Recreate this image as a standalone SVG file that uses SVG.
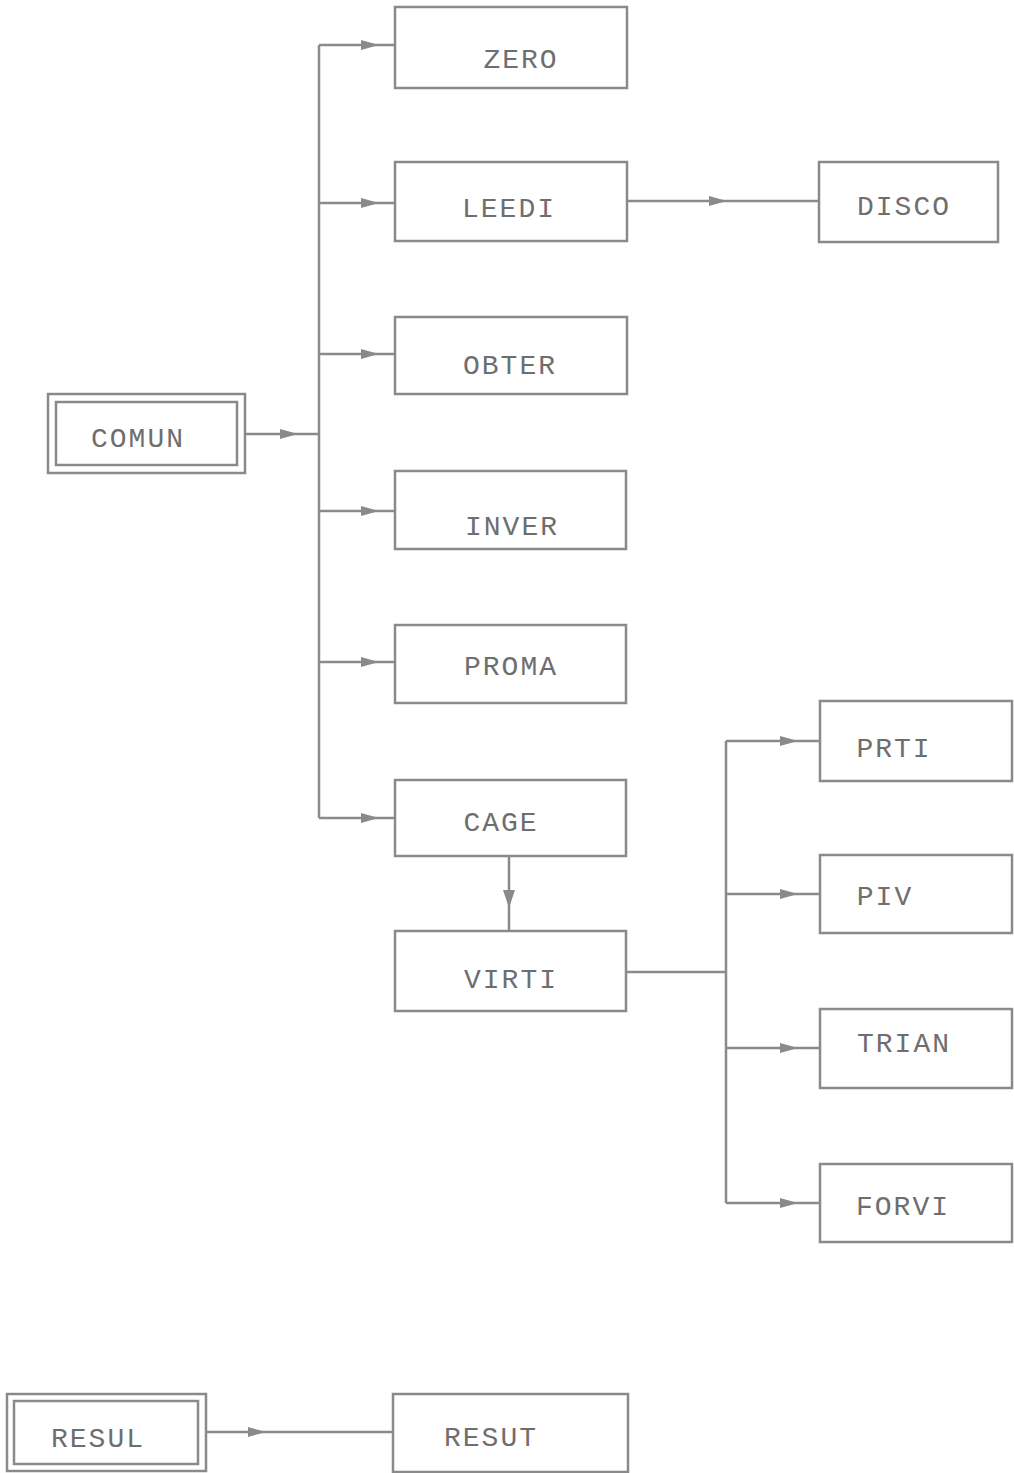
<svg xmlns="http://www.w3.org/2000/svg" xmlns:xlink="http://www.w3.org/1999/xlink" width="1014" height="1473" viewBox="0 0 1014 1473">
<style>
.box{fill:none;stroke:#8a8a8a;stroke-width:2.5}
.lbl{font-family:"Liberation Mono","DejaVu Sans Mono",monospace;font-size:28px;letter-spacing:2px;fill:#6e6e6e;text-anchor:middle}
.ln{fill:none;stroke:#8a8a8a;stroke-width:2.5}
.ah{fill:#8a8a8a}
</style>
<defs>
<path id="ahR" d="M-16,-5 L2,0 L-16,5 Z"/>
<path id="ahD" d="M-6,-16 L0,2 L6,-16 Z"/>
</defs>
<rect width="1014" height="1473" fill="#fff"/>
<g id="connectors">
<path class="ln" d="M245,434 H319"/>
<path class="ln" d="M319,45 V818"/>
<path class="ln" d="M319,45 H395"/>
<path class="ln" d="M319,203 H395"/>
<path class="ln" d="M319,354 H395"/>
<path class="ln" d="M319,511 H395"/>
<path class="ln" d="M319,662 H395"/>
<path class="ln" d="M319,818 H395"/>
<path class="ln" d="M627,201 H819"/>
<path class="ln" d="M509,856 V931"/>
<path class="ln" d="M627,972 H726"/>
<path class="ln" d="M726,741 V1203"/>
<path class="ln" d="M726,741 H820"/>
<path class="ln" d="M726,894 H820"/>
<path class="ln" d="M726,1048 H820"/>
<path class="ln" d="M726,1203 H820"/>
<path class="ln" d="M206,1432 H393"/>
<g class="ah">
<use xlink:href="#ahR" x="296" y="434"/>
<use xlink:href="#ahR" x="377" y="45"/>
<use xlink:href="#ahR" x="377" y="203"/>
<use xlink:href="#ahR" x="377" y="354"/>
<use xlink:href="#ahR" x="377" y="511"/>
<use xlink:href="#ahR" x="377" y="662"/>
<use xlink:href="#ahR" x="377" y="818"/>
<use xlink:href="#ahR" x="725" y="201"/>
<use xlink:href="#ahD" x="509" y="906"/>
<use xlink:href="#ahR" x="796" y="741"/>
<use xlink:href="#ahR" x="796" y="894"/>
<use xlink:href="#ahR" x="796" y="1048"/>
<use xlink:href="#ahR" x="796" y="1203"/>
<use xlink:href="#ahR" x="264" y="1432"/>
</g>
</g>
<g id="COMUN"><rect class="box" x="48" y="394" width="197" height="79"/><rect class="box" x="56" y="402" width="181" height="63"/><text class="lbl" x="138" y="447">COMUN</text></g>
<g id="ZERO"><rect class="box" x="395" y="7" width="232" height="81"/><text class="lbl" x="521" y="68">ZERO</text></g>
<g id="LEEDI"><rect class="box" x="395" y="162" width="232" height="79"/><text class="lbl" x="509" y="217">LEEDI</text></g>
<g id="OBTER"><rect class="box" x="395" y="317" width="232" height="77"/><text class="lbl" x="510" y="374">OBTER</text></g>
<g id="INVER"><rect class="box" x="395" y="471" width="231" height="78"/><text class="lbl" x="512" y="535">INVER</text></g>
<g id="PROMA"><rect class="box" x="395" y="625" width="231" height="78"/><text class="lbl" x="511" y="675">PROMA</text></g>
<g id="CAGE"><rect class="box" x="395" y="780" width="231" height="76"/><text class="lbl" x="501" y="831">CAGE</text></g>
<g id="VIRTI"><rect class="box" x="395" y="931" width="231" height="80"/><text class="lbl" x="511" y="988">VIRTI</text></g>
<g id="DISCO"><rect class="box" x="819" y="162" width="179" height="80"/><text class="lbl" x="904" y="215">DISCO</text></g>
<g id="PRTI"><rect class="box" x="820" y="701" width="192" height="80"/><text class="lbl" x="894" y="757">PRTI</text></g>
<g id="PIV"><rect class="box" x="820" y="855" width="192" height="78"/><text class="lbl" x="885" y="905">PIV</text></g>
<g id="TRIAN"><rect class="box" x="820" y="1009" width="192" height="79"/><text class="lbl" x="904" y="1052">TRIAN</text></g>
<g id="FORVI"><rect class="box" x="820" y="1164" width="192" height="78"/><text class="lbl" x="903" y="1215">FORVI</text></g>
<g id="RESUL"><rect class="box" x="7" y="1394" width="199" height="77"/><rect class="box" x="14" y="1401" width="184" height="63"/><text class="lbl" x="98" y="1447">RESUL</text></g>
<g id="RESUT"><rect class="box" x="393" y="1394" width="235" height="78"/><text class="lbl" x="491" y="1446">RESUT</text></g>
</svg>
